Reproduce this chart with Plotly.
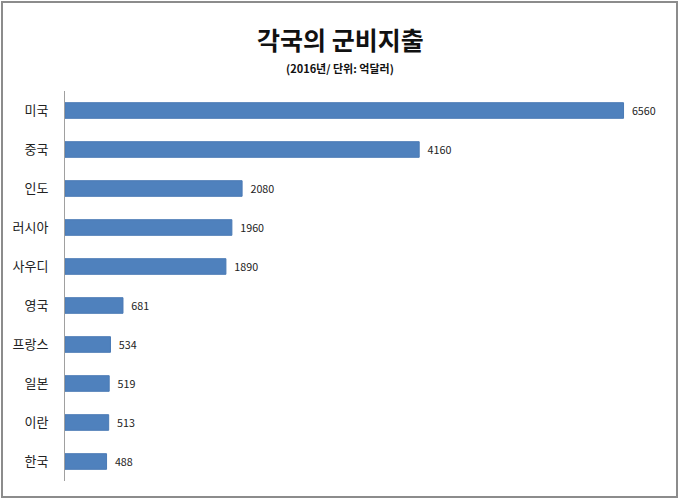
import plotly.graph_objects as go

countries = ["미국", "중국", "인도", "러시아", "사우디", "영국", "프랑스", "일본", "이란", "한국"]
spending = [6560, 4160, 2080, 1960, 1890, 681, 534, 519, 513, 488]
title_text = "각국의 군비지출"
subtitle_text = "(2016년/ 단위: 억달러)"

W, H = 680, 501
ml, mr, mt, mb = 65, 19, 91, 20
pw, ph = W - ml - mr, H - mt - mb

def px(x):
    return (x - ml) / pw

def py(y):
    return (H - mb - y) / ph

fig = go.Figure(go.Bar(
    x=spending, y=countries, orientation="h",
    marker=dict(color="#4F81BD", line=dict(color="#4A7AB5", width=1)),
    width=0.4,
    text=["\u2002" + str(v) for v in spending], textposition="outside",
    textfont=dict(size=11, color="#222222", family="Noto Sans CJK KR"),
    cliponaxis=False,
))

fig.update_layout(
    width=W, height=H,
    margin=dict(l=ml, r=mr, t=mt, b=mb, autoexpand=False),
    plot_bgcolor="white", paper_bgcolor="white",
    showlegend=False,
    font=dict(family="Noto Sans CJK KR", color="#222222"),
    xaxis=dict(range=[0, 7000], visible=False, showgrid=False, zeroline=False, automargin=False),
    yaxis=dict(autorange="reversed", showline=True, linecolor="#A0A0A0", linewidth=1,
               showgrid=False, ticks="", ticklabelstandoff=13, automargin=False,
               tickfont=dict(size=13, color="#222222", family="Noto Sans CJK KR")),
    annotations=[
        dict(text="<b>" + title_text + "</b>", xref="paper", yref="paper",
             x=px(340), y=py(39), xanchor="center", yanchor="middle", showarrow=False,
             font=dict(size=25, color="#111111", family="Noto Sans CJK KR")),
        dict(text="<b>" + subtitle_text + "</b>", xref="paper", yref="paper",
             x=px(340), y=py(68), xanchor="center", yanchor="middle", showarrow=False,
             font=dict(size=11, color="#111111", family="Noto Sans CJK KR")),
    ],
    shapes=[
        dict(type="rect", xref="paper", yref="paper",
             x0=px(2), x1=px(677), y0=py(497), y1=py(2),
             line=dict(color="#8C8C8C", width=2), fillcolor="rgba(0,0,0,0)", layer="below"),
    ],
)

fig.write_html("out.html", config={"displayModeBar": False},
               post_script="document.body.style.margin='0';")
